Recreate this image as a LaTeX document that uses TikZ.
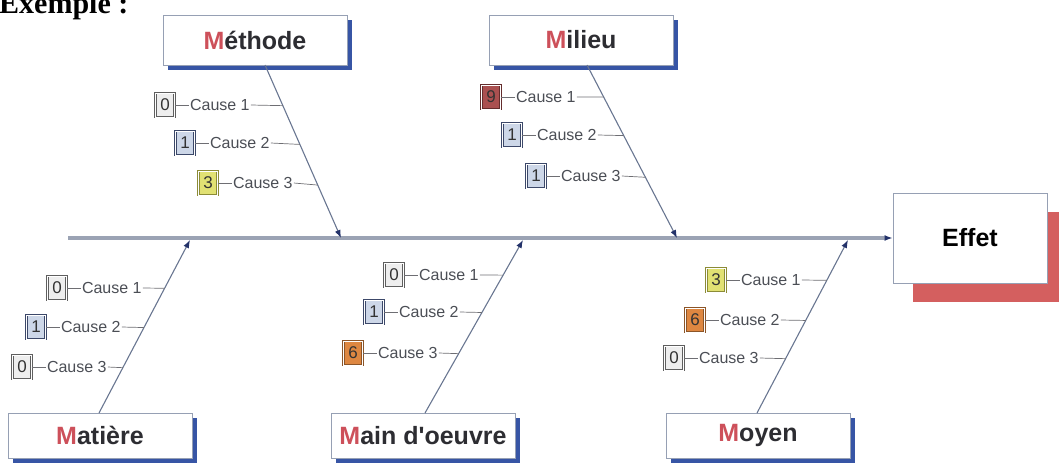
\documentclass[tikz,border=0pt]{standalone}
\usepackage{fontspec}
\setmainfont{Liberation Serif}
\newfontfamily\diagsans{Liberation Sans}
\usetikzlibrary{calc,positioning,arrows.meta,shadows}

\definecolor{spinecol}{RGB}{155,163,180}
\definecolor{bonecol}{RGB}{105,118,145}
\definecolor{tipcol}{RGB}{35,50,105}
\definecolor{boxedge}{RGB}{150,160,180}
\definecolor{catshadow}{RGB}{55,85,165}
\definecolor{effshadow}{RGB}{212,95,95}
\definecolor{cattext}{RGB}{45,45,50}
\definecolor{catred}{RGB}{205,80,90}
\definecolor{causetext}{RGB}{75,78,85}
\definecolor{leadcol}{RGB}{110,110,115}
% rating box colours
\definecolor{zeroF}{RGB}{238,238,238}\definecolor{zeroD}{RGB}{95,95,95}
\definecolor{oneF}{RGB}{205,215,232}\definecolor{oneD}{RGB}{60,72,105}
\definecolor{threeF}{RGB}{225,225,115}\definecolor{threeD}{RGB}{140,140,55}
\definecolor{sixF}{RGB}{222,135,65}\definecolor{sixD}{RGB}{140,85,40}
\definecolor{nineF}{RGB}{170,80,80}\definecolor{nineD}{RGB}{100,45,45}

\tikzset{
  catbox/.style={draw=boxedge, line width=0.8pt, fill=white,
    minimum width=184pt, minimum height=50pt, inner sep=0pt,
    font=\diagsans\bfseries\fontsize{25}{25}\selectfont, text=cattext,
    general shadow={shadow xshift=5pt, shadow yshift=-5pt, fill=catshadow}},
  lowbox/.style={catbox, minimum height=45pt},
  effbox/.style={draw=boxedge, line width=0.8pt, fill=white,
    minimum width=154pt, minimum height=90pt, inner sep=0pt,
    font=\diagsans\bfseries\fontsize{25}{25}\selectfont, text=black,
    general shadow={shadow xshift=20pt, shadow yshift=-19pt, fill=effshadow}},
  rate/.style={draw=#1, double=white, double distance=1pt, line width=0.7pt,
    minimum width=19pt, minimum height=24pt, inner sep=0pt,
    font=\diagsans\fontsize{17}{17}\selectfont, text=black!80},
  rzero/.style={rate=zeroD, fill=zeroF},
  rone/.style={rate=oneD, fill=oneF},
  rthree/.style={rate=threeD, fill=threeF},
  rsix/.style={rate=sixD, fill=sixF},
  rnine/.style={rate=nineD, fill=nineF},
  cause/.style={inner sep=1pt, font=\diagsans\fontsize{16}{16}\selectfont,
    text=causetext},
  spine/.style={draw=spinecol, line width=3.5pt},
  bone/.style={draw=bonecol, line width=1.1pt},
  bonetip/.style={-{Latex[length=8pt,width=6pt,color=tipcol]}},
  leader/.style={draw=leadcol, line width=0.7pt},
}

% one cause: name, rating style, rating, position, cause number, bone, fraction along the bone
\newcommand{\causeitem}[7]{%
  \node[#2] (#1n) at #4 {#3};
  \node[cause, anchor=west] (#1t) at ($(#1n.east)+(14,0)$) {Cause~#5};
  \coordinate (#1b) at ($(#6s)!#7!(#6e)$);
  \draw[leader] (#1n.east) -- (#1t.west);
  \draw[leader] (#1t.east) -- (#1b);
}

\begin{document}
\begin{tikzpicture}[x=1pt,y=-1pt]
\useasboundingbox (0,0) rectangle (1059,464);

% heading
\node[anchor=base west, inner sep=0pt,
  font=\bfseries\fontsize{30}{30}\selectfont] (title) at (-1,13) {Exemple :};

% category boxes
\node[catbox] (meth) at (255,40) {\textcolor{catred}{M}éthode};
\node[catbox] (mil)  at (581,40) {\textcolor{catred}{M}ilieu};
\node[lowbox] (mat)  at (100,435.5) {\textcolor{catred}{M}atière};
\node[lowbox] (main) at (423,435.5) {\textcolor{catred}{M}ain d'oeuvre};
\node[lowbox] (moy)  at (758,435.5) {\textcolor{catred}{M}oyen};

% effect box
\node[effbox] (eff) at (970,238) {Effet};

% spine
\coordinate (spl) at (68,238);
\draw[spine, -{Latex[length=8pt,width=6pt,color=tipcol]}] (spl) -- (eff.west);

% bone ends on the spine
\coordinate (methe) at (341,238);
\coordinate (mile)  at (677,238);
\coordinate (mate)  at (190,240);
\coordinate (maine) at (523,240);
\coordinate (moye)  at (848,240);
% bone starts on the boxes
\coordinate (meths) at (265,65);
\coordinate (mils)  at (587,65);
\coordinate (mats)  at (99,413);
\coordinate (mains) at (425,413);
\coordinate (moys)  at (757,413);

\draw[bone, bonetip] (meths) -- (methe);
\draw[bone, bonetip] (mils) -- (mile);
\draw[bone, bonetip] (mats) -- (mate);
\draw[bone, bonetip] (mains) -- (maine);
\draw[bone, bonetip] (moys) -- (moye);

% Methode
\causeitem{aa}{rzero}{0}{(165,105)}{1}{meth}{0.235}
\causeitem{ab}{rone}{1}{(185,143)}{2}{meth}{0.459}
\causeitem{ac}{rthree}{3}{(208,183)}{3}{meth}{0.694}
% Milieu
\causeitem{ba}{rnine}{9}{(491,97)}{1}{mil}{0.185}
\causeitem{bb}{rone}{1}{(512,135)}{2}{mil}{0.408}
\causeitem{bc}{rone}{1}{(536,176)}{3}{mil}{0.649}
% Matiere
\causeitem{ca}{rzero}{0}{(57,288)}{1}{mat}{0.721}
\causeitem{cb}{rone}{1}{(36,327)}{2}{mat}{0.494}
\causeitem{cc}{rzero}{0}{(22,367)}{3}{mat}{0.262}
% Main d'oeuvre
\causeitem{da}{rzero}{0}{(394,275)}{1}{main}{0.797}
\causeitem{db}{rone}{1}{(374,312)}{2}{main}{0.581}
\causeitem{dc}{rsix}{6}{(353,353)}{3}{main}{0.343}
% Moyen
\causeitem{ea}{rthree}{3}{(716,280)}{1}{moy}{0.767}
\causeitem{eb}{rsix}{6}{(695,320)}{2}{moy}{0.535}
\causeitem{ec}{rzero}{0}{(674,358)}{3}{moy}{0.314}
\end{tikzpicture}
\end{document}
